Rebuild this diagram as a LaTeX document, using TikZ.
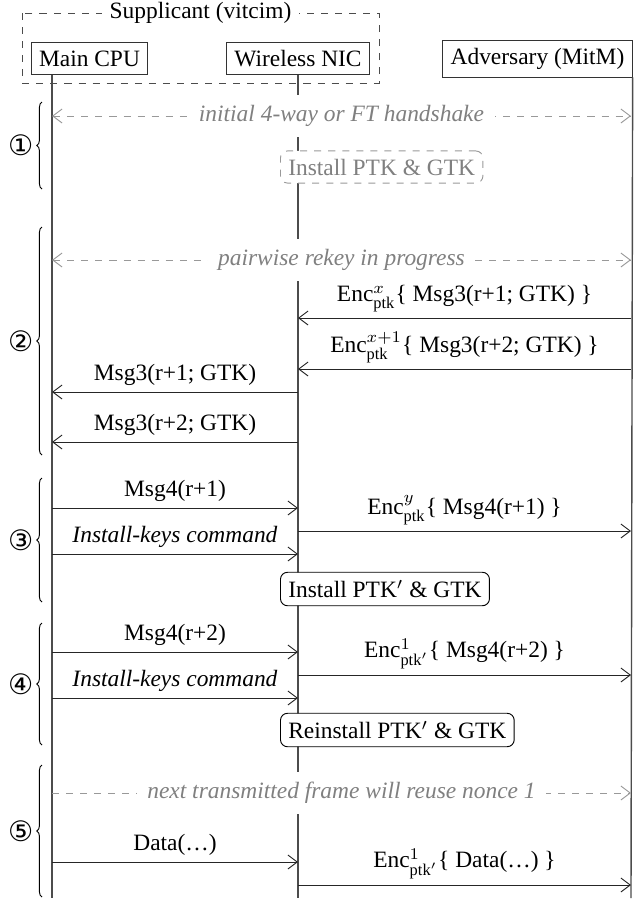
\documentclass[tikz,border=0pt]{standalone}
\usepackage{fontspec}
\setmainfont{Liberation Serif}
\newfontfamily\circfont{DejaVu Sans}
\usetikzlibrary{arrows.meta,decorations.pathreplacing}

\begin{document}
\begin{tikzpicture}[
    x=0.015cm, y=0.015cm,
    >={Straight Barb[length=4pt,width=6pt]},
    actor/.style={rectangle, draw=black!80, fill=white},
    life/.style={semithick, black!70},
    msg/.style={->, black!85},
    lbl/.style={above, inner sep=2.5pt, text=black},
    info/.style={dashed, black!40},
    infolabel/.style={fill=white, text=black!50, font=\itshape, inner sep=4.5pt},
    keybox/.style={rectangle, draw, fill=white, rounded corners=3pt, anchor=west},
    grp/.style={decorate, decoration={brace, amplitude=2.2pt}},
    num/.style={anchor=east, inner sep=0pt, xshift=-3.5pt, font=\circfont\large}
]
    \useasboundingbox (0,0) rectangle (641,-903);

    \foreach \r/\y in {hs/116, rk/260, e1/318, e2/369, m1/392, m2/442,
                       qa/508, ey/531, ka/554, qb/652, ez/675, kb/698,
                       nx/793, dt/862, ed/885}
        \coordinate (row-\r) at (0,-\y);

    \node[actor] (cpu) at (89.5,-58.5) {Main CPU};
    \node[actor] (nic) at (298,-58.5) {Wireless NIC};
    \node[actor] (adv) at (537.5,-58.5) {Adversary (MitM)};
    \draw[dashed, black!70] (22,-13) rectangle (379,-83);
    \node[fill=white] (supp) at (200.5,-13) {Supplicant (vitcim)};

    \coordinate (cpuend) at (52,-898);
    \coordinate (nicend) at (298,-898);
    \coordinate (advend) at (631,-898);
    \draw[life] (cpuend |- cpu.south) -- (cpuend);
    \draw[life] (nic.south) -- (nicend);
    \draw[life] (adv.south east) -- (advend);

    \draw[info, <->] (cpuend |- row-hs) -- node[infolabel] {initial 4-way or FT handshake} (advend |- row-hs);
    \node[keybox, dashed, draw=black!40, text=black!50] (ptk1) at (280,-167) {Install PTK \& GTK};

    \draw[info, <->] (cpuend |- row-rk) -- node[infolabel] {pairwise rekey in progress} (advend |- row-rk);
    \draw[msg] (advend |- row-e1) -- node[lbl] {Enc$^{x}_{\mathrm{ptk}}$\{ Msg3(r+1; GTK) \}} (nicend |- row-e1);
    \draw[msg] (advend |- row-e2) -- node[lbl] {Enc$^{x+1}_{\mathrm{ptk}}$\{ Msg3(r+2; GTK) \}} (nicend |- row-e2);
    \draw[msg] (nicend |- row-m1) -- node[lbl] {Msg3(r+1; GTK)} (cpuend |- row-m1);
    \draw[msg] (nicend |- row-m2) -- node[lbl] {Msg3(r+2; GTK)} (cpuend |- row-m2);

    \draw[msg] (cpuend |- row-qa) -- node[lbl] {Msg4(r+1)} (nicend |- row-qa);
    \draw[msg] (nicend |- row-ey) -- node[lbl] {Enc$^{y}_{\mathrm{ptk}}$\{ Msg4(r+1) \}} (advend |- row-ey);
    \draw[msg] (cpuend |- row-ka) -- node[lbl] {\textit{Install-keys command}} (nicend |- row-ka);
    \node[keybox] (ptk2) at (280,-589) {Install PTK$'$ \& GTK};

    \draw[msg] (cpuend |- row-qb) -- node[lbl] {Msg4(r+2)} (nicend |- row-qb);
    \draw[msg] (nicend |- row-ez) -- node[lbl] {Enc$^{1}_{\mathrm{ptk}'}$\{ Msg4(r+2) \}} (advend |- row-ez);
    \draw[msg] (cpuend |- row-kb) -- node[lbl] {\textit{Install-keys command}} (nicend |- row-kb);
    \node[keybox] (ptk3) at (280,-730) {Reinstall PTK$'$ \& GTK};

    \draw[info, ->] (cpuend |- row-nx) -- node[infolabel] {next transmitted frame will reuse nonce 1} (advend |- row-nx);
    \draw[msg] (cpuend |- row-dt) -- node[lbl] {Data(\dots)} (nicend |- row-dt);
    \draw[msg] (nicend |- row-ed) -- node[lbl] {Enc$^{1}_{\mathrm{ptk}'}$\{ Data(\dots) \}} (advend |- row-ed);

    \draw[grp] (42,-189) -- node[num] {①} (42,-102);
    \draw[grp] (42,-455) -- node[num] {②} (42,-227);
    \draw[grp] (42,-602) -- node[num] {③} (42,-478);
    \draw[grp] (42,-745) -- node[num] {④} (42,-623);
    \draw[grp] (42,-897) -- node[num] {⑤} (42,-765);
\end{tikzpicture}
\end{document}
